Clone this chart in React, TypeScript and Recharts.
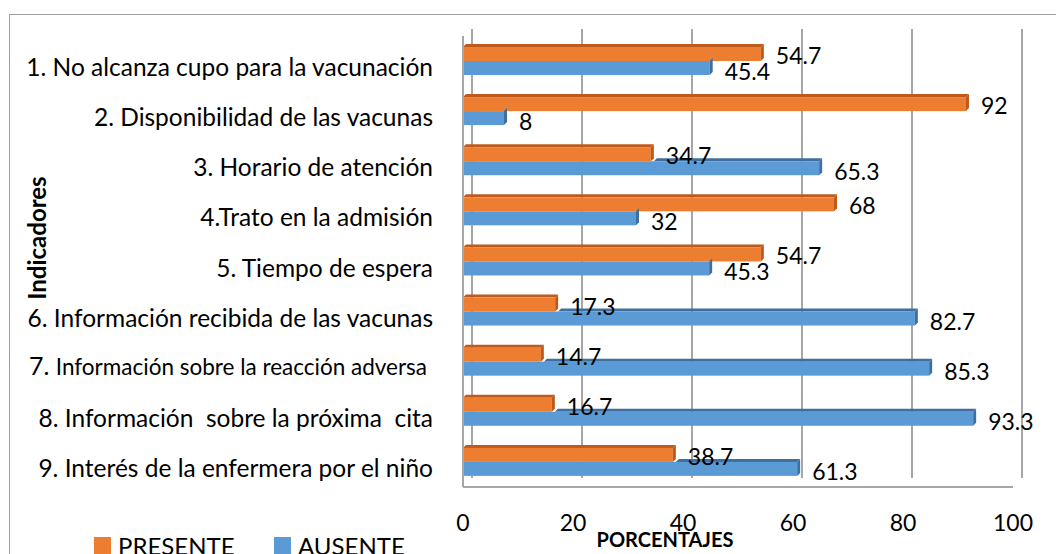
import React from "react";
import { BarChart, Bar, XAxis, YAxis, CartesianGrid, LabelList } from "recharts";

const categories = [
  "1. No alcanza cupo para la vacunación",
  "2. Disponibilidad de las vacunas",
  "3. Horario de atención",
  "4.Trato en la admisión",
  "5. Tiempo de espera",
  "6. Información recibida de las vacunas",
  "7. Información sobre la reacción adversa",
  "8. Información  sobre la próxima  cita",
  "9. Interés de la enfermera por el niño",
];
const presente = [54.7, 92, 34.7, 68, 54.7, 17.3, 14.7, 16.7, 38.7];
const ausente = [45.4, 8, 65.3, 32, 45.3, 82.7, 85.3, 93.3, 61.3];
const xTicks = [0, 20, 40, 60, 80, 100];
const seriesNames = ["PRESENTE", "AUSENTE"];
const xTitle = "PORCENTAJES";
const yTitle = "Indicadores";

const data = categories.map((c, i) => ({ name: c, presente: presente[i], ausente: ausente[i] }));

const FONT = "Lato, 'Open Sans', sans-serif";
const ORANGE = "#ED7D31";
const ORANGE_DARK = "#BE5B1C";
const BLUE = "#5B9BD5";
const BLUE_DARK = "#3F6F9E";
const GRID = "#A6A6A6";

const CategoryTick = (props: any) => {
  const { x, y, payload } = props;
  const label: string = String(payload.value);
  const baseY = y + 15;
  if (label.startsWith("7. ")) {
    return (
      <text x={x - 6} y={baseY - 2} textAnchor="end" fill="#000" fontFamily={FONT} style={{ whiteSpace: "pre" }}>
        <tspan fontSize={25}>7. </tspan>
        <tspan fontSize={22.5}>{label.slice(3)}</tspan>
      </text>
    );
  }
  return (
    <text x={x} y={baseY} textAnchor="end" fill="#000" fontFamily={FONT} fontSize={24.5} style={{ whiteSpace: "pre" }}>
      {label}
    </text>
  );
};

const makeShape = (front: string, dark: string, isAusente: boolean) => (props: any) => {
  const { x, y, width, height, payload } = props;
  const d = 3;
  const w = Math.max(width, 0);
  let topStart: number | null = x;
  if (isAusente) {
    const ratio = payload.presente / payload.ausente;
    topStart = ratio < 1 ? x + w * ratio : null;
  }
  return (
    <g>
      {topStart !== null && topStart < x + w && (
        <polygon
          points={`${topStart},${y} ${topStart + d},${y - d} ${x + w},${y - d} ${x + w - d},${y}`}
          fill={dark}
        />
      )}
      <rect x={x} y={y} width={Math.max(w - d, 0)} height={height} fill={front} />
      <polygon
        points={`${x + w - d},${y} ${x + w},${y - d} ${x + w},${y + height - d} ${x + w - d},${y + height}`}
        fill={dark}
      />
    </g>
  );
};

const makeValueLabel = (dyOff: number) => (props: any) => {
  const { x, y, width, height, value } = props;
  return (
    <text x={x + width + 12} y={y + height / 2 + dyOff} fill="#000" fontFamily={FONT} fontSize={23}>
      {value}
    </text>
  );
};

const gridGen = (args: any) => {
  const { offset } = args;
  return xTicks.map((t) => offset.left + (offset.width * t) / 100 + 9);
};

export default function App() {
  return (
    <div style={{ position: "absolute", left: 0, top: 0, width: 1056, height: 554, background: "#fff", overflow: "hidden" }}>
      <div style={{ position: "absolute", left: 9, top: 14, width: 1047, height: 1, background: "#9E9E9E" }} />
      <div style={{ position: "absolute", left: 9, top: 14, width: 1, height: 540, background: "#9E9E9E" }} />
      <div style={{ position: "absolute", left: 0, top: 0 }}>
        <BarChart
          width={1056}
          height={554}
          data={data}
          layout="vertical"
          margin={{ top: 36, right: 43, bottom: 37, left: 0 }}
          barSize={14}
          barGap={0}
        >
          <CartesianGrid
            horizontal={false}
            vertical={true}
            stroke={GRID}
            strokeWidth={2}
            y={29}
            height={449}
            verticalCoordinatesGenerator={gridGen}
          />
          <XAxis
            type="number"
            domain={[0, 100]}
            ticks={xTicks}
            tickLine={false}
            tickMargin={22}
            axisLine={{ stroke: GRID, strokeWidth: 2 }}
            height={30}
            tick={{ fill: "#000", fontSize: 23, fontFamily: FONT }}
          />
          <YAxis
            type="category"
            dataKey="name"
            width={463}
            tickLine={false}
            tickMargin={24}
            axisLine={{ stroke: GRID, strokeWidth: 2 }}
            tick={<CategoryTick />}
            interval={0}
          />
          <Bar dataKey="presente" name={seriesNames[0]} fill={ORANGE} isAnimationActive={false} shape={makeShape(ORANGE, ORANGE_DARK, false)}>
            <LabelList dataKey="presente" content={makeValueLabel(10)} />
          </Bar>
          <Bar dataKey="ausente" name={seriesNames[1]} fill={BLUE} isAnimationActive={false} shape={makeShape(BLUE, BLUE_DARK, true)}>
            <LabelList dataKey="ausente" content={makeValueLabel(11.5)} />
          </Bar>
        </BarChart>
      </div>
      <svg style={{ position: "absolute", left: 0, top: 0 }} width={1056} height={554}>
        <text
          x={0}
          y={0}
          transform="translate(46,238) rotate(-90)"
          textAnchor="middle"
          fontFamily={FONT}
          fontWeight="bold"
          fontSize={24}
          fill="#000"
        >
          {yTitle}
        </text>
        <text x={665} y={547} textAnchor="middle" fontFamily={FONT} fontWeight="bold" fontSize={20} fill="#000">
          {xTitle}
        </text>
        <rect x={94} y={537} width={17} height={17} fill={ORANGE} />
        <text x={118} y={555} fontFamily={FONT} fontSize={24} fill="#000">{seriesNames[0]}</text>
        <rect x={274} y={537} width={17} height={17} fill={BLUE} />
        <text x={298} y={555} fontFamily={FONT} fontSize={24} fill="#000">{seriesNames[1]}</text>
      </svg>
    </div>
  );
}
